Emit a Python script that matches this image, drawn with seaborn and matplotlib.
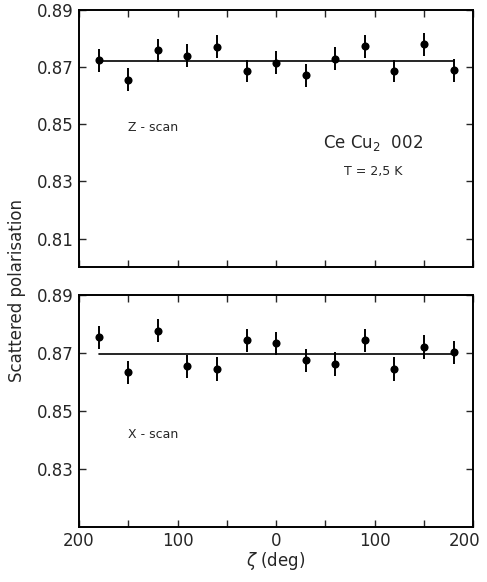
import numpy as np
import pandas as pd
import matplotlib
matplotlib.use("Agg")
import matplotlib.pyplot as plt
import matplotlib.transforms as mtransforms
import seaborn as sns

# angles zeta (deg)
zeta = [-180, -150, -120, -90, -60, -30, 0, 30, 60, 90, 120, 150, 180]

# z-scan polarisation
pol_z = [0.8724, 0.8656, 0.8759, 0.8739, 0.8771, 0.8686, 0.8715,
         0.8671, 0.8729, 0.8773, 0.8686, 0.8779, 0.8688]
err_z = [0.0040, 0.0040, 0.0040, 0.0040, 0.0040, 0.0040, 0.0040,
         0.0040, 0.0040, 0.0040, 0.0040, 0.0040, 0.0040]
fit_z = 0.8720

# x-scan polarisation
pol_x = [0.8755, 0.8634, 0.8777, 0.8654, 0.8645, 0.8744, 0.8734,
         0.8675, 0.8662, 0.8744, 0.8645, 0.8721, 0.8703]
err_x = [0.0040, 0.0040, 0.0040, 0.0040, 0.0040, 0.0040, 0.0040,
         0.0040, 0.0040, 0.0040, 0.0040, 0.0040, 0.0040]
fit_x = 0.8697

fit_range = [-180, 180]

xticks = [-200, -150, -100, -50, 0, 50, 100, 150, 200]
xticklabels = ['200', '', '100', '', '0', '', '100', '', '200']

sns.set_style("ticks")
plt.rcParams['font.family'] = ['DejaVu Sans']

fig = plt.figure(figsize=(4.87, 5.82), dpi=100)
ax1 = fig.add_axes([0.162, 0.541, 0.810, 0.442])
ax2 = fig.add_axes([0.162, 0.0945, 0.810, 0.3985])


def panel(ax, pol, err, fit, ylim, yticks):
    df = pd.DataFrame({'zeta': zeta, 'pol': pol})
    ax.errorbar(zeta, pol, yerr=err, fmt='none', ecolor='black', elinewidth=1.4, capsize=0)
    sns.scatterplot(data=df, x='zeta', y='pol', ax=ax, color='black', s=34,
                    edgecolor='black', linewidth=0, zorder=3)
    fdf = pd.DataFrame({'zeta': fit_range, 'pol': [fit, fit]})
    sns.lineplot(data=fdf, x='zeta', y='pol', ax=ax, color='black', linewidth=1.2)
    ax.set_xlim(-200, 200)
    ax.set_ylim(*ylim)
    ax.set_yticks(yticks)
    ax.set_yticklabels([f'{v:.2f}' for v in yticks])
    ax.set_xticks(xticks)
    ax.tick_params(direction='in', top=True, right=True, length=5, width=1,
                   labelsize=12)
    for s in ax.spines.values():
        s.set_linewidth(1.4)
        s.set_color('black')
    ax.set_xlabel('')
    ax.set_ylabel('')


panel(ax1, pol_z, err_z, fit_z, (0.80, 0.89), [0.81, 0.83, 0.85, 0.87, 0.89])
panel(ax2, pol_x, err_x, fit_x, (0.81, 0.89), [0.83, 0.85, 0.87, 0.89])

ax1.set_xticklabels([])
ax2.set_xticklabels(xticklabels)
# keep the right-most label inside the figure
last = ax2.get_xticklabels()[-1]
last.set_transform(last.get_transform() +
                   mtransforms.ScaledTranslation(-9 / 100, 0, fig.dpi_scale_trans))

ax1.text(-150, 0.8488, 'Z - scan', fontsize=9, va='center', ha='left')
ax1.text(98, 0.8435, 'Ce Cu$_2$  002', fontsize=12, va='center', ha='center')
ax1.text(98, 0.8335, 'T = 2,5 K', fontsize=9, va='center', ha='center')
ax2.text(-150, 0.8420, 'X - scan', fontsize=9, va='center', ha='left')

fig.text(0.035, 0.5, 'Scattered polarisation', rotation=90, fontsize=12,
         va='center', ha='center')
ax2.set_xlabel(r'$\zeta$ (deg)', fontsize=12, labelpad=0)

fig.savefig('out.png', dpi=100)
